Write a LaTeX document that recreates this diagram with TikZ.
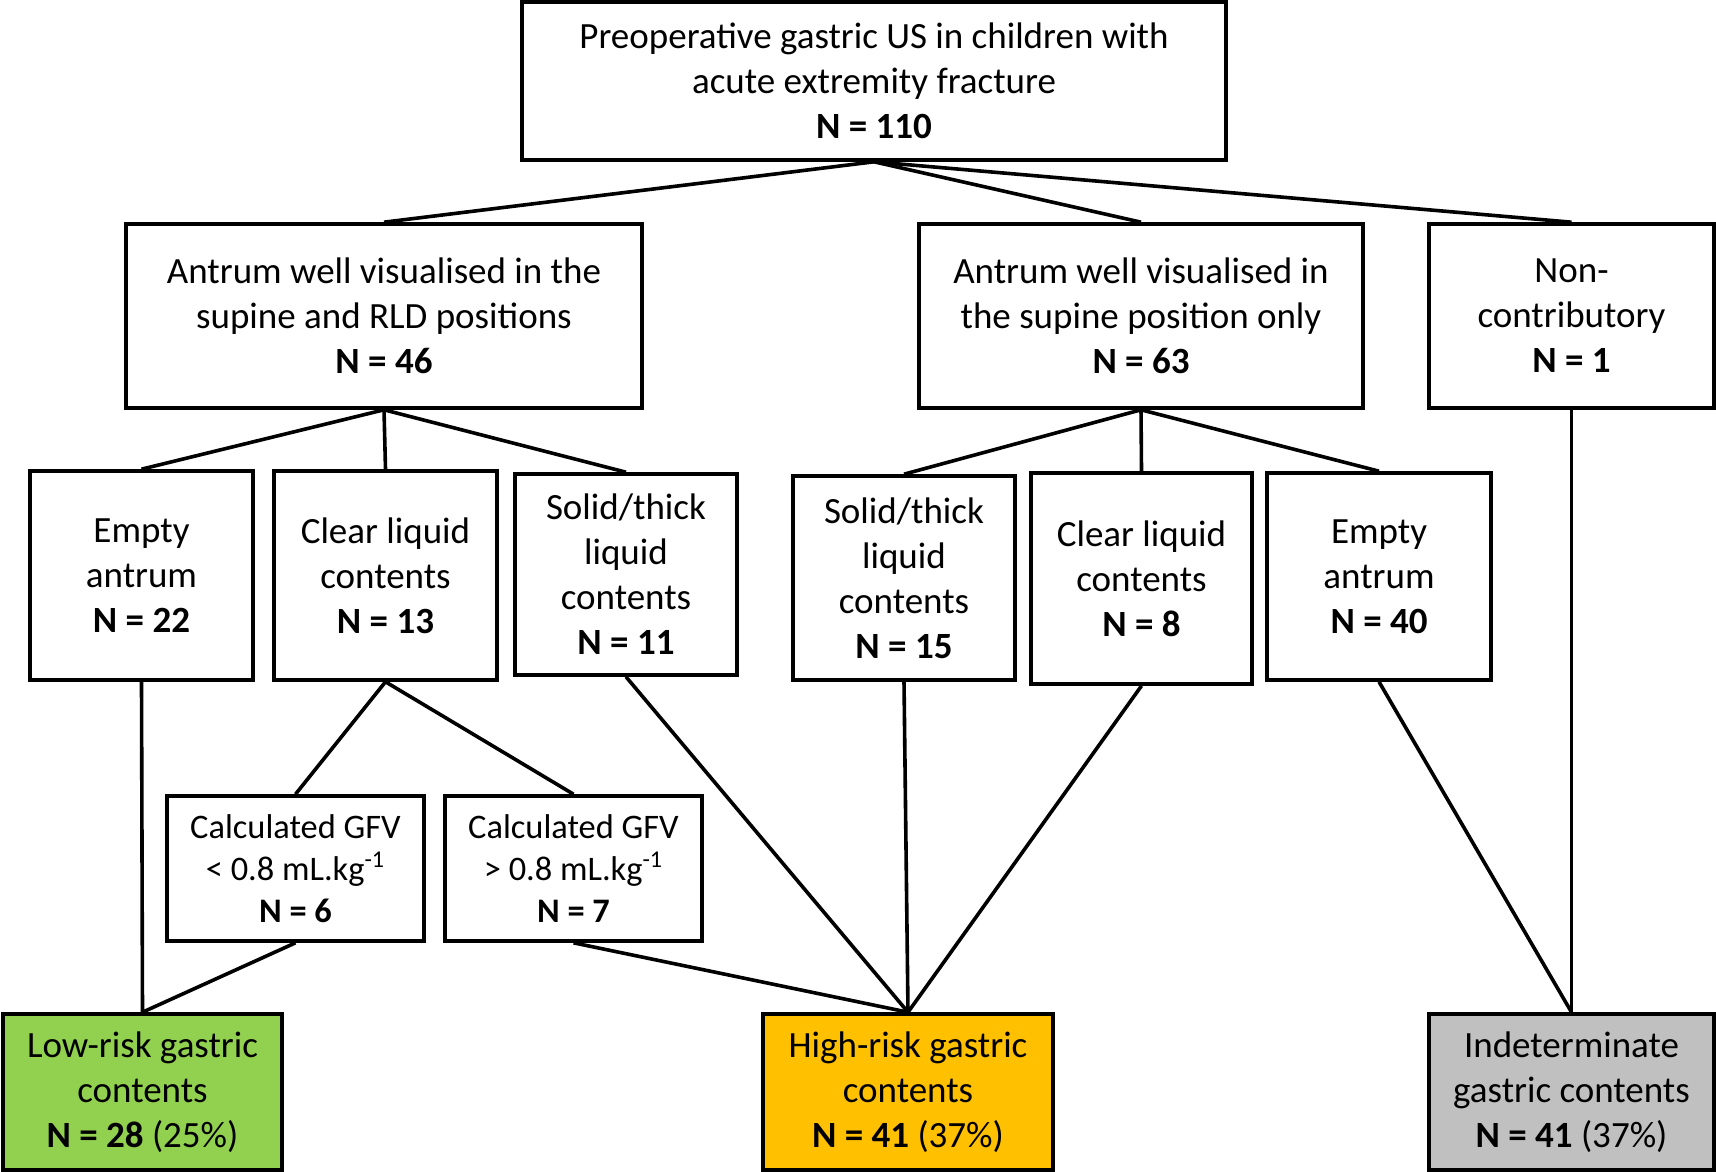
\documentclass[tikz,border=0pt]{standalone}
\usepackage{fontspec}
\setmainfont{Carlito}
\definecolor{lowgreen}{HTML}{92D050}
\definecolor{highorange}{HTML}{FFC000}
\definecolor{indgray}{HTML}{C0C0C0}
\begin{document}
\begin{tikzpicture}[x=0.5pt,y=-0.5pt,
  box/.style={draw=black,line width=1.8pt,align=center,inner sep=0pt,
    font=\fontsize{18.5}{22.5}\selectfont},
  smallbox/.style={box,font=\fontsize{17.2}{21}\selectfont},
  conn/.style={draw=black,line width=1.8pt}]
\useasboundingbox (0,0) rectangle (1716,1171);
% level 1
\node[box,minimum width=352pt,minimum height=79pt] (top) at (874,81)
  {Preoperative gastric US in children with\\acute extremity fracture\\\textbf{N = 110}};
% level 2
\node[box,minimum width=258pt,minimum height=92pt] (A) at (384,316)
  {Antrum well visualised in the\\supine and RLD positions\\\textbf{N = 46}};
\node[box,minimum width=222pt,minimum height=92pt] (B) at (1141,316)
  {Antrum well visualised in\\the supine position only\\\textbf{N = 63}};
\node[box,minimum width=142.5pt,minimum height=92pt] (C) at (1571.5,316)
  {Non-\\contributory\\\textbf{N = 1}};
% level 3
\node[box,minimum width=111.5pt,minimum height=104.5pt] (EL) at (141.5,575.5)
  {Empty\\antrum\\\textbf{N = 22}};
\node[box,minimum width=111.5pt,minimum height=104.5pt] (CL) at (385.5,575.5)
  {Clear liquid\\contents\\\textbf{N = 13}};
\node[box,minimum width=111pt,minimum height=100.5pt] (SL) at (626,574.5)
  {Solid/thick\\liquid\\contents\\\textbf{N = 11}};
\node[box,minimum width=111pt,minimum height=102pt] (SR) at (904,578)
  {Solid/thick\\liquid\\contents\\\textbf{N = 15}};
\node[box,minimum width=110.5pt,minimum height=105.5pt] (CR) at (1141.5,578.5)
  {Clear liquid\\contents\\\textbf{N = 8}};
\node[box,minimum width=112pt,minimum height=103.5pt] (ER) at (1379,576.5)
  {Empty\\antrum\\\textbf{N = 40}};
% level 4
\node[smallbox,minimum width=128.5pt,minimum height=72.5pt] (G1) at (295.5,868.5)
  {Calculated GFV\\< 0.8 mL.kg\textsuperscript{-1}\\\textbf{N = 6}};
\node[smallbox,minimum width=128.5pt,minimum height=72.5pt] (G2) at (573.5,868.5)
  {Calculated GFV\\> 0.8 mL.kg\textsuperscript{-1}\\\textbf{N = 7}};
% level 5
\node[box,fill=lowgreen,minimum width=139.5pt,minimum height=78pt] (LOW) at (142.5,1092)
  {Low-risk gastric\\contents\\\textbf{N = 28} (25\%)};
\node[box,fill=highorange,minimum width=145pt,minimum height=78pt] (HIGH) at (908,1092)
  {High-risk gastric\\contents\\\textbf{N = 41} (37\%)};
\node[box,fill=indgray,minimum width=142.5pt,minimum height=78pt] (IND) at (1571.5,1092)
  {Indeterminate\\gastric contents\\\textbf{N = 41} (37\%)};
% connectors
\draw[conn] (top.south) -- (A.north);
\draw[conn] (top.south) -- (B.north);
\draw[conn] (top.south) -- (C.north);
\draw[conn] (A.south) -- (EL.north);
\draw[conn] (A.south) -- (CL.north);
\draw[conn] (A.south) -- (SL.north);
\draw[conn] (B.south) -- (SR.north);
\draw[conn] (B.south) -- (CR.north);
\draw[conn] (B.south) -- (ER.north);
\draw[conn] (CL.south) -- (G1.north);
\draw[conn] (CL.south) -- (G2.north);
\draw[conn] (EL.south) -- (LOW.north);
\draw[conn] (G1.south) -- (LOW.north);
\draw[conn] (G2.south) -- (HIGH.north);
\draw[conn] (SL.south) -- (HIGH.north);
\draw[conn] (SR.south) -- (HIGH.north);
\draw[conn] (CR.south) -- (HIGH.north);
\draw[conn] (ER.south) -- (IND.north);
\draw[conn] (C.south) -- (IND.north);
\end{tikzpicture}
\end{document}
